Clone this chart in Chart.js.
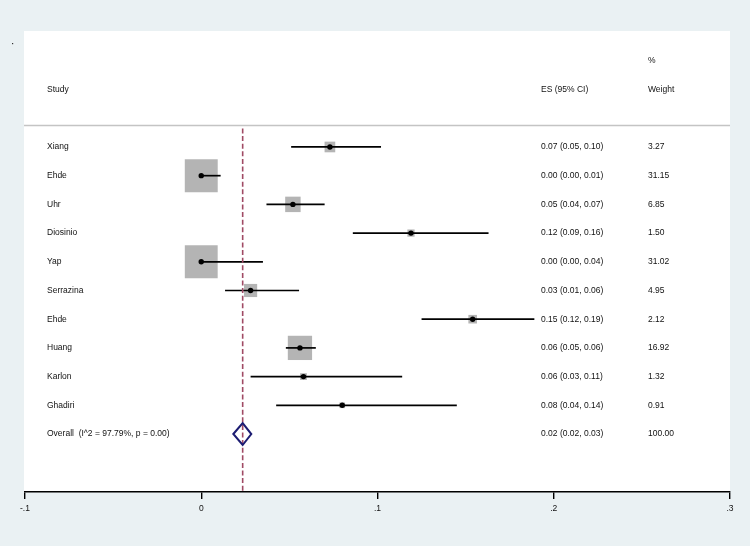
<!DOCTYPE html>
<html>
<head>
<meta charset="utf-8">
<script src="https://cdn.jsdelivr.net/npm/chart.js@4.4.1/dist/chart.umd.min.js"></script>
<style>
  body { margin: 0; background: #eaf1f3; }
  #wrap { width: 750px; height: 546px; }
</style>
</head>
<body>
<div id="wrap"><canvas id="forest" width="750" height="546"></canvas></div>
<script>
// --- Data ---
const studies = ['Xiang', 'Ehde', 'Uhr', 'Diosinio', 'Yap', 'Serrazina', 'Ehde', 'Huang', 'Karlon', 'Ghadiri'];
const effect = [0.073, 0.0, 0.052, 0.119, 0.0, 0.028, 0.154, 0.056, 0.058, 0.080];
const ciLow = [0.051, 0.0, 0.037, 0.086, 0.0, 0.0135, 0.125, 0.048, 0.028, 0.0425];
const ciHigh = [0.102, 0.011, 0.070, 0.163, 0.035, 0.0555, 0.189, 0.065, 0.114, 0.145];
const esLabels = ['0.07 (0.05, 0.10)', '0.00 (0.00, 0.01)', '0.05 (0.04, 0.07)', '0.12 (0.09, 0.16)',
  '0.00 (0.00, 0.04)', '0.03 (0.01, 0.06)', '0.15 (0.12, 0.19)', '0.06 (0.05, 0.06)',
  '0.06 (0.03, 0.11)', '0.08 (0.04, 0.14)'];
const weights = [3.27, 31.15, 6.85, 1.50, 31.02, 4.95, 2.12, 16.92, 1.32, 0.91];
const weightLabels = ['3.27', '31.15', '6.85', '1.50', '31.02', '4.95', '2.12', '16.92', '1.32', '0.91'];

const overallLabel = 'Overall  (I^2 = 97.79%, p = 0.00)';
const overallES = [0.0235, 0.0182, 0.0284]; // es, low, high
const overallText = ['0.02 (0.02, 0.03)', '100.00'];

const xTicks = [-0.1, 0, 0.1, 0.2, 0.3];
const xTickLabels = ['-.1', '0', '.1', '.2', '.3'];

const FONT = '8.5px "Liberation Sans", Arial, sans-serif';
const overallRow = studies.length;

// --- Custom drawing: panel, text columns, CI lines, diamond ---
const forestPlugin = {
    id: 'forest',
    beforeDraw(chart) {
        const { ctx, chartArea: a } = chart;
        ctx.save();
        ctx.fillStyle = '#ffffff';
        ctx.fillRect(a.left - 1, a.top, a.right - a.left + 1, a.bottom - a.top);
        // stray dot top-left
        ctx.fillStyle = '#333';
        ctx.fillRect(12, 43, 1.2, 1.2);
        ctx.restore();
    },
    afterDatasetDraw(chart, args) {
        if (args.index !== 0) return;
        const { ctx } = chart;
        const x = chart.scales.x, y = chart.scales.y;
        ctx.save();
        ctx.strokeStyle = '#000';
        ctx.lineWidth = 1.7;
        studies.forEach((s, i) => {
            const py = y.getPixelForValue(i);
            ctx.beginPath();
            ctx.moveTo(x.getPixelForValue(ciLow[i]), py);
            ctx.lineTo(x.getPixelForValue(ciHigh[i]), py);
            ctx.stroke();
        });
        ctx.restore();
    },
    afterDraw(chart) {
        const { ctx, chartArea: a } = chart;
        const x = chart.scales.x, y = chart.scales.y;
        ctx.save();

        // header separator
        const lineY = Math.round(y.getPixelForValue(-0.77)) + 0.5;
        ctx.strokeStyle = '#c4c4c4';
        ctx.lineWidth = 1.5;
        ctx.beginPath();
        ctx.moveTo(a.left - 1, lineY);
        ctx.lineTo(a.right, lineY);
        ctx.stroke();

        // overall dashed line
        const ox = x.getPixelForValue(overallES[0]);
        ctx.strokeStyle = '#a04a64';
        ctx.lineWidth = 1.6;
        ctx.setLineDash([5, 2.6]);
        ctx.beginPath();
        ctx.moveTo(ox, lineY + 3);
        ctx.lineTo(ox, a.bottom);
        ctx.stroke();
        ctx.setLineDash([]);

        // diamond
        const dy = y.getPixelForValue(overallRow);
        ctx.strokeStyle = '#1c1c72';
        ctx.lineWidth = 2;
        ctx.beginPath();
        ctx.moveTo(x.getPixelForValue(overallES[1]), dy);
        ctx.lineTo(ox, dy - 11);
        ctx.lineTo(x.getPixelForValue(overallES[2]), dy);
        ctx.lineTo(ox, dy + 11);
        ctx.closePath();
        ctx.stroke();

        // text columns
        ctx.font = FONT;
        ctx.fillStyle = '#111';
        ctx.textBaseline = 'middle';
        ctx.textAlign = 'left';
        const colStudy = 47, colES = 541, colW = 648;
        ctx.fillText('%', colW, y.getPixelForValue(-3));
        ctx.fillText('Study', colStudy, y.getPixelForValue(-2));
        ctx.fillText('ES (95% CI)', colES, y.getPixelForValue(-2));
        ctx.fillText('Weight', colW, y.getPixelForValue(-2));
        studies.forEach((s, i) => {
            const py = y.getPixelForValue(i);
            ctx.fillText(s, colStudy, py);
            ctx.fillText(esLabels[i], colES, py);
            ctx.fillText(weightLabels[i], colW, py);
        });
        ctx.fillText(overallLabel, colStudy, dy);
        ctx.fillText(overallText[0], colES, dy);
        ctx.fillText(overallText[1], colW, dy);
        ctx.restore();
    }
};

const rows = studies.map((s, i) => i);

new Chart(document.getElementById('forest'), {
    type: 'scatter',
    data: {
        datasets: [
            {
                // weight boxes (drawn first, behind)
                order: 2,
                data: rows.map(i => ({ x: effect[i], y: i })),
                pointStyle: 'rect',
                backgroundColor: '#b4b4b4',
                borderWidth: 0,
                pointRadius: ctx => 5.9 * Math.sqrt(weights[ctx.dataIndex]) / Math.SQRT2,
                pointHoverRadius: ctx => 5.9 * Math.sqrt(weights[ctx.dataIndex]) / Math.SQRT2
            },
            {
                // point estimates
                order: 1,
                data: rows.map(i => ({ x: effect[i], y: i })),
                pointStyle: 'circle',
                backgroundColor: '#000',
                borderWidth: 0,
                pointRadius: 2.7
            }
        ]
    },
    options: {
        responsive: false,
        animation: false,
        layout: { autoPadding: false, padding: { left: 25, right: 20, top: 31, bottom: 0 } },
        plugins: { legend: { display: false }, tooltip: { enabled: false } },
        scales: {
            x: {
                type: 'linear',
                min: -0.1,
                max: 0.3,
                afterBuildTicks: s => { s.ticks = xTicks.map(v => ({ value: v })); },
                afterFit: s => { s.height = 54; },
                border: { display: true, color: '#000', width: 1.6 },
                grid: { display: true, drawOnChartArea: false, drawTicks: true, tickLength: 7, color: '#000', lineWidth: 1.4 },
                ticks: {
                    padding: 5,
                    color: '#111',
                    font: { family: '"Liberation Sans", Arial, sans-serif', size: 8.5 },
                    maxRotation: 0,
                    autoSkip: false,
                    callback: (v, idx) => xTickLabels[idx]
                }
            },
            y: {
                type: 'linear',
                display: false,
                reverse: true,
                min: -4.04,
                max: 12.02
            }
        }
    },
    plugins: [forestPlugin]
});
</script>
</body>
</html>
